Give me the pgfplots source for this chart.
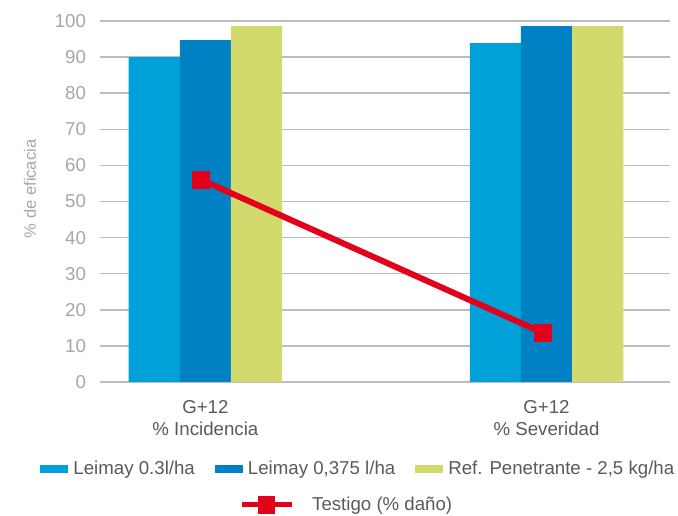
\documentclass[border=0pt]{standalone}
\usepackage{fontspec}
\setmainfont{Liberation Sans}
\usepackage{pgfplots}
\pgfplotsset{compat=1.18}
\usetikzlibrary{calc}

\definecolor{lblue}{HTML}{00A1D8}
\definecolor{mblue}{HTML}{0081C3}
\definecolor{lgreen}{HTML}{D2DA6E}
\definecolor{tred}{HTML}{E3001B}
\definecolor{gridc}{HTML}{BDBDBD}
\definecolor{ticktxt}{HTML}{A6A6A6}
\definecolor{darktxt}{HTML}{5A5A5A}

\pgfplotsset{
  base/.style={
    scale only axis,
    width=427.5pt, height=270.75pt,
    xmin=-0.309, xmax=1.362,
    ymin=0, ymax=100,
    font=\fontsize{14}{16.5}\selectfont,
    /pgf/number format/assume math mode=true,
  },
}

\begin{document}
\begin{tikzpicture}
\begin{axis}[
    base,
    axis lines=left,
    axis line style={-},
    x axis line style={draw=gridc, line width=1.1pt},
    y axis line style={draw=none},
    xtick={0,1},
    xticklabels={{G+12\\\% Incidencia},{G+12\\\% Severidad}},
    xticklabel style={align=center, text=darktxt, yshift=-10pt},
    ytick={0,10,...,100},
    yticklabel style={text=ticktxt, xshift=-7pt},
    major tick length=0pt,
    tick style={draw=none},
    ymajorgrids=true,
    grid style={gridc, line width=1.1pt},
    ylabel={\% de eficacia},
    every axis y label/.style={at={(axis description cs:-0.1228,0.535)}, rotate=90, anchor=center, text=ticktxt, font=\fontsize{12.4}{14}\selectfont},
    bar width=0.15,
    legend columns=3,
    legend style={draw=none, fill=none, inner sep=0pt, text=darktxt,
      nodes={inner sep=0pt},
      at={(axis description cs:-0.105,-0.241)}, anchor=west,
      /tikz/every odd column/.append style={column sep=3.8pt},
      /tikz/every even column/.append style={column sep=15pt}},
    legend image code/.code={\fill[#1] (0pt,-3pt) rectangle (21pt,3pt);},
]
\addplot[ybar, fill=lblue, draw=none, bar shift=-0.15] coordinates {(0,90.0) (1,93.9)};
\addlegendentry{Leimay 0.3l/ha}
\addplot[ybar, fill=mblue, draw=none, bar shift=0] coordinates {(0,94.7) (1,98.6)};
\addlegendentry{Leimay 0,375 l/ha}
\addplot[ybar, fill=lgreen, draw=none, bar shift=0.15] coordinates {(0,98.6) (1,98.6)};
\addlegendentry{Ref. Penetrante - 2,5 kg/ha}
\coordinate (bl) at (rel axis cs:0,0);
\coordinate (tr) at (rel axis cs:1,1);
\end{axis}
\begin{axis}[
    base,
    hide axis,
    legend style={draw=none, fill=none, inner sep=0pt, text=darktxt,
      nodes={inner sep=0pt},
      at={(axis description cs:0.2437,-0.3407)}, anchor=west,
      /tikz/every odd column/.append style={column sep=13.5pt}},
    legend image code/.code={
      \draw[#1, line width=3.75pt] (0pt,0pt) -- (37.5pt,0pt);
      \fill[tred] (14.5pt,-4.5pt) rectangle (23pt,4.5pt);},
]
\addplot[tred, line width=4.5pt, mark=square*, mark size=6.3pt, mark options={solid, line width=0pt}] coordinates {(-0.012,56.0) (0.99,13.6)};
\addlegendentry{Testigo (\% daño)}
\end{axis}
\pgfresetboundingbox
\useasboundingbox ($(bl)+(-75pt,-100.5pt)$) rectangle ($(tr)+(6pt,15.75pt)$);
\end{tikzpicture}
\end{document}
